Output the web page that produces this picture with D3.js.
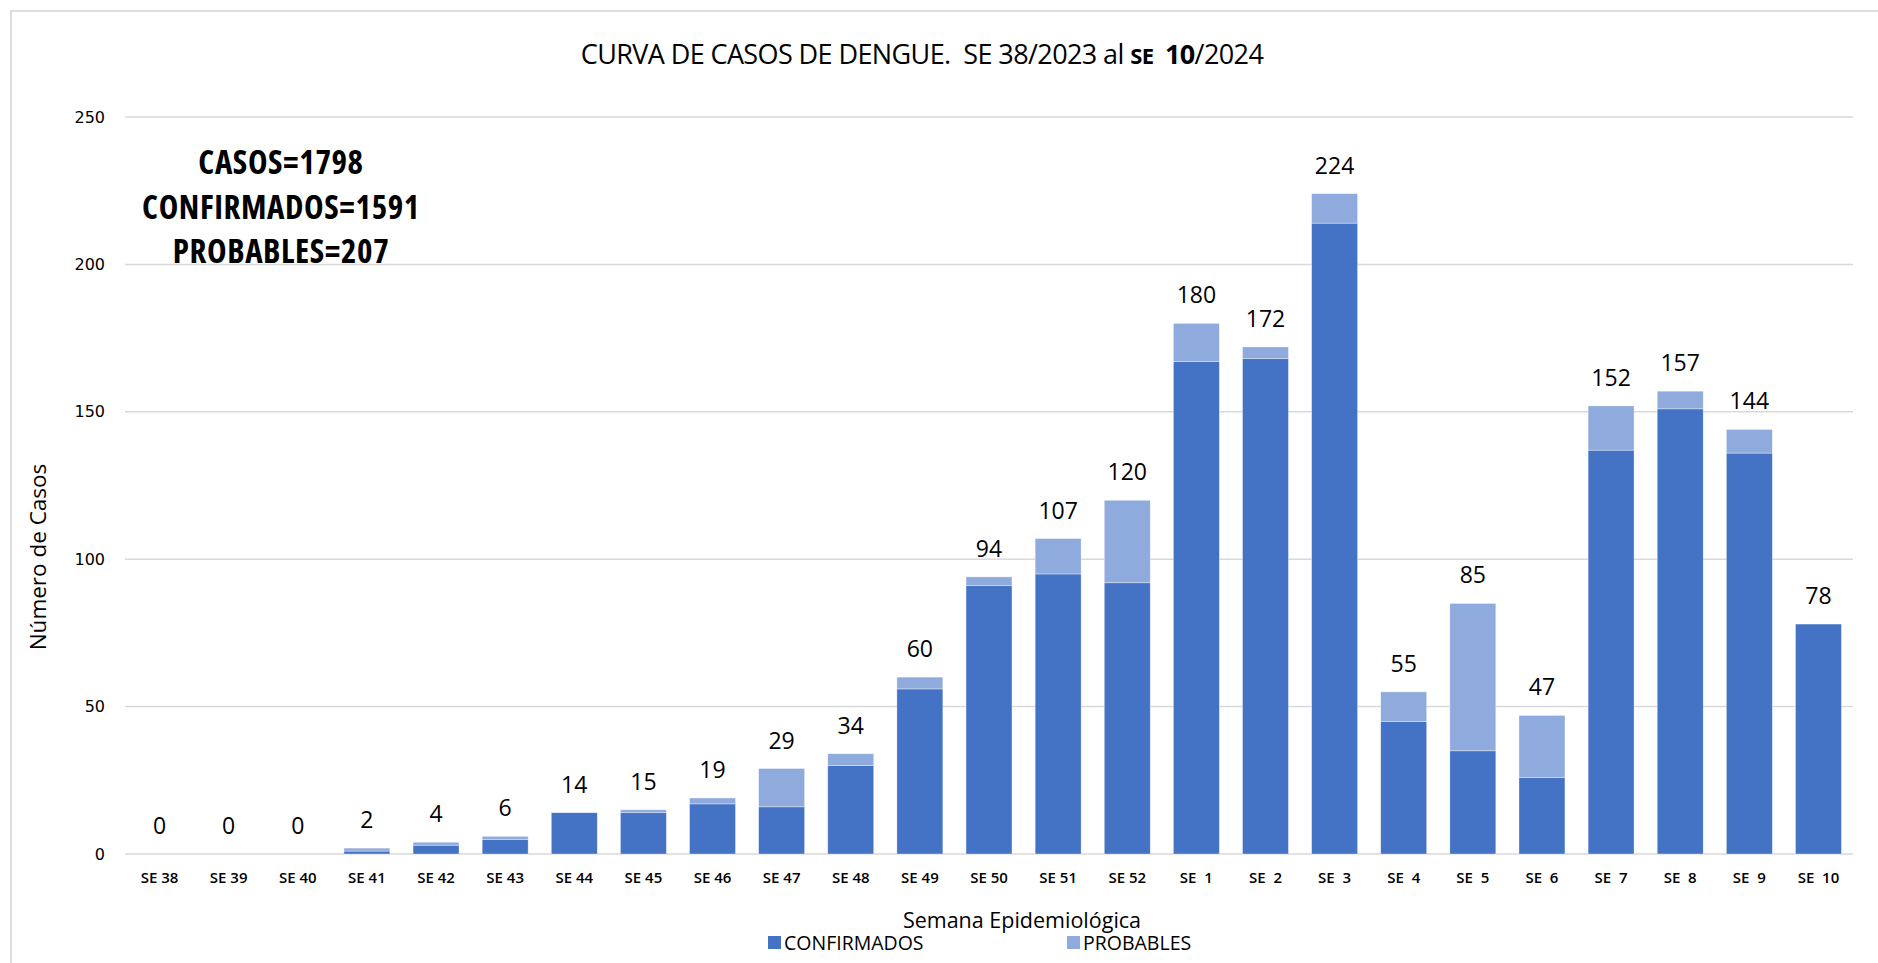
<!DOCTYPE html>
<html>
<head>
<meta charset="utf-8">
<script src="https://cdn.jsdelivr.net/npm/d3@7"></script>
<style>
  body { margin: 0; background: #fff; }
  svg { display: block; }
  text { fill: #000; }
  .narrow { font-family: "Open Sans", sans-serif; font-stretch: 90%; }
</style>
</head>
<body>
<svg id="chart" width="1878" height="963"></svg>
<script>
// semanas epidemiologicas
var semanas = ["SE 38","SE 39","SE 40","SE 41","SE 42","SE 43","SE 44","SE 45","SE 46","SE 47","SE 48","SE 49","SE 50",
  "SE 51","SE 52","SE  1","SE  2","SE  3","SE  4","SE  5","SE  6","SE  7","SE  8","SE  9","SE  10"];
var confirmados = [0,0,0,1,3,5,14,14,17,16,30,56,91,95,92,167,168,214,45,35,26,137,151,136,78];
var probables   = [0,0,0,1,1,1,0,1,2,13,4,4,3,12,28,13,4,10,10,50,21,15,6,8,0];
var yTicks = [0, 50, 100, 150, 200, 250];
var resumen = ["CASOS=1798", "CONFIRMADOS=1591", "PROBABLES=207"];

var svg = d3.select("#chart"),
  margin = {top: 117, right: 25, bottom: 109, left: 125},
  width = 1878 - margin.left - margin.right,
  height = 963 - margin.top - margin.bottom;

var colores = {confirmados: "#4472C4", probables: "#8FAADC"};

// marco
svg.append("rect")
  .attr("x", 11).attr("y", 11)
  .attr("width", 1900).attr("height", 1000)
  .style("fill", "none").style("stroke", "#d4d4d4").style("stroke-width", 1.5);

var g = svg.append("g").attr("transform", "translate(" + margin.left + "," + margin.top + ")");

var x = d3.scaleBand().domain(semanas).range([0, width]).paddingInner(0.335).paddingOuter(0.1675);
var y = d3.scaleLinear().domain([0, 250]).range([height, 0]);

var tabla = semanas.map(function (s, i) {
  return {semana: s, confirmados: confirmados[i], probables: probables[i], total: confirmados[i] + probables[i]};
});

// grid
g.append("g")
  .attr("class", "grid")
  .selectAll("line")
  .data(yTicks)
  .enter().append("line")
  .attr("x1", 0).attr("x2", width)
  .attr("y1", function (d) { return y(d); })
  .attr("y2", function (d) { return y(d); })
  .style("stroke", "#d9d9d9").style("stroke-width", 1.5);

// eje y
var ejeY = g.append("g")
  .call(d3.axisLeft(y).tickValues(yTicks).tickSize(0).tickPadding(20));
ejeY.select(".domain").remove();
ejeY.selectAll("text")
  .style("font-family", "'DejaVu Sans', sans-serif")
  .style("font-size", "16px")
  .style("fill", "#000");

// eje x
var ejeX = g.append("g")
  .attr("transform", "translate(0," + height + ")")
  .call(d3.axisBottom(x).tickSize(0).tickPadding(18));
ejeX.select(".domain").remove();
ejeX.selectAll("text")
  .attr("class", "narrow")
  .style("font-size", "15px")
  .style("font-weight", "600")
  .style("fill", "#000")
  .style("white-space", "pre");

// barras apiladas
var stack = d3.stack().keys(["confirmados", "probables"]);
var series = stack(tabla);

g.append("g")
  .selectAll("g")
  .data(series)
  .enter().append("g")
  .style("fill", function (d) { return colores[d.key]; })
  .selectAll("rect")
  .data(function (d) { return d; })
  .enter().append("rect")
  .attr("x", function (d) { return x(d.data.semana); })
  .attr("width", x.bandwidth())
  .attr("y", function (d) { return y(d[1]); })
  .attr("height", function (d) { return y(d[0]) - y(d[1]); })
  .style("stroke", "#ffffff").style("stroke-width", 0.6).style("stroke-opacity", 0.6);

// etiquetas de total
g.append("g")
  .selectAll("text")
  .data(tabla)
  .enter().append("text")
  .attr("class", "narrow")
  .attr("x", function (d) { return x(d.semana) + x.bandwidth() / 2; })
  .attr("y", function (d) { return y(d.total) - 20; })
  .attr("text-anchor", "middle")
  .style("font-size", "23px")
  .style("font-weight", "500")
  .text(function (d) { return d.total; });

// titulo
var titulo = svg.append("text")
  .attr("class", "narrow")
  .attr("x", 922).attr("y", 64)
  .attr("text-anchor", "middle")
  .style("font-size", "27px")
  .style("letter-spacing", "-0.6px")
  .style("white-space", "pre");
titulo.append("tspan").text("CURVA DE CASOS DE DENGUE.  SE 38/2023 al ");
titulo.append("tspan").style("font-weight", "bold").style("font-size", "22px").text("SE ");
titulo.append("tspan").style("font-weight", "bold").text(" 10");
titulo.append("tspan").text("/2024");

// resumen
svg.append("g")
  .selectAll("text")
  .data(resumen)
  .enter().append("text")
  .attr("x", 281)
  .attr("y", function (d, i) { return 174 + i * 44.5; })
  .attr("text-anchor", "middle")
  .style("font-family", "'Open Sans', sans-serif")
  .style("font-stretch", "75%")
  .style("font-size", "33px")
  .style("font-weight", "bold")
  .style("letter-spacing", "0.6px")
  .text(function (d) { return d; });

// titulos de ejes
svg.append("text")
  .attr("class", "narrow")
  .attr("transform", "translate(46,557) rotate(-90)")
  .attr("text-anchor", "middle")
  .style("font-size", "22.5px")
  .text("Número de Casos");

svg.append("text")
  .attr("class", "narrow")
  .attr("x", 1022).attr("y", 928)
  .attr("text-anchor", "middle")
  .style("font-size", "21.5px")
  .text("Semana Epidemiológica");

// leyenda
var leyenda = [
  {nombre: "CONFIRMADOS", key: "confirmados", x: 768},
  {nombre: "PROBABLES", key: "probables", x: 1067}
];
var ley = svg.append("g").selectAll("g")
  .data(leyenda)
  .enter().append("g")
  .attr("transform", function (d) { return "translate(" + d.x + ",936)"; });
ley.append("rect")
  .attr("width", 13).attr("height", 13)
  .style("fill", function (d) { return colores[d.key]; });
ley.append("text")
  .attr("class", "narrow")
  .attr("x", 16).attr("y", 14)
  .style("font-size", "19.5px")
  .text(function (d) { return d.nombre; });
</script>
</body>
</html>
